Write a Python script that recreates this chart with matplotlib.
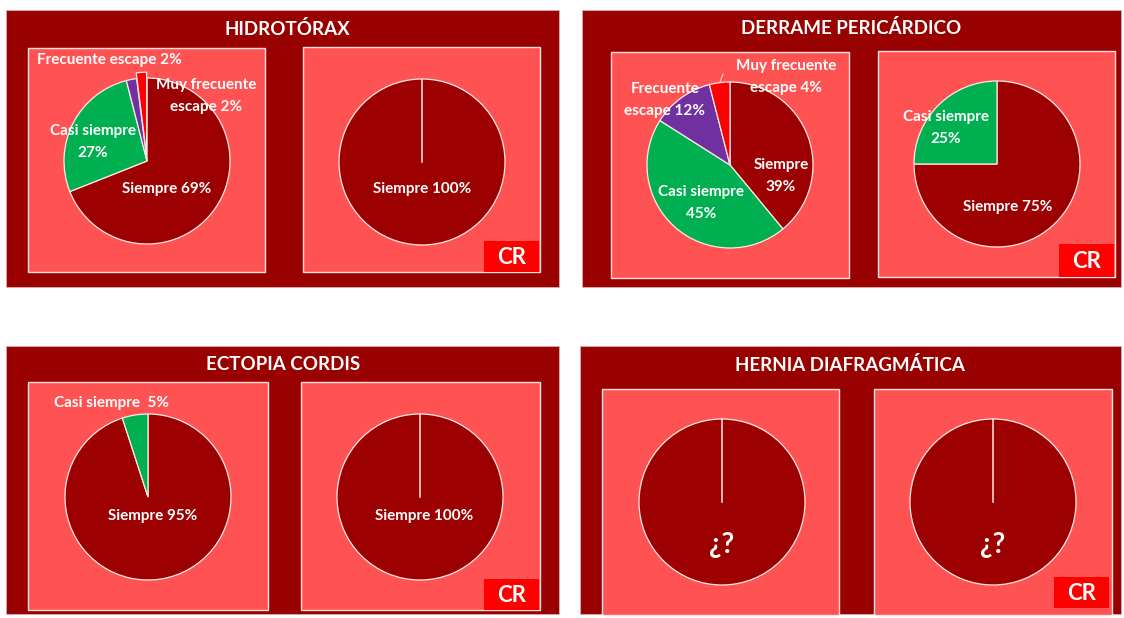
import matplotlib
matplotlib.use("Agg")
import matplotlib.pyplot as plt
from matplotlib.patches import Rectangle
import numpy as np

W, H, DPI = 1124, 618, 100

# ---- data -------------------------------------------------------------
colores = {"Siempre": "#9C0000", "Casi siempre": "#00B050",
           "Frecuente escape": "#7030A0", "Muy frecuente escape": "#FF0000"}

titulos = ["HIDROTÓRAX", "DERRAME PERICÁRDICO", "ECTOPIA CORDIS", "HERNIA DIAFRAGMÁTICA"]

hid_cat = ["Siempre", "Casi siempre", "Frecuente escape", "Muy frecuente escape"]
hid_val = [69, 27, 2, 2]
hid_cr_cat = ["Siempre"]
hid_cr_val = [100]

der_cat = ["Siempre", "Casi siempre", "Frecuente escape", "Muy frecuente escape"]
der_val = [39, 45, 12, 4]
der_cr_cat = ["Siempre", "Casi siempre"]
der_cr_val = [75, 25]

ect_cat = ["Siempre", "Casi siempre"]
ect_val = [95, 5]
ect_cr_cat = ["Siempre"]
ect_cr_val = [100]

her_cat = ["Siempre"]
her_val = [100]          # proporción desconocida
her_cr_cat = ["Siempre"]
her_cr_val = [100]

# ---- layout (pixels) --------------------------------------------------
paneles = [(6, 10, 553, 277), (582, 10, 539, 277),
           (6, 346, 553, 268), (580, 346, 541, 268)]
pos_titulos = [(287, 29), (851, 28), (283, 365), (850, 365)]
cajas = [(28, 48, 237, 224), (303, 47, 237, 225),
         (611, 52, 238, 226), (878, 51, 237, 226),
         (28, 382, 240, 228), (301, 382, 239, 228),
         (602, 389, 237, 226), (874, 389, 238, 226)]
cajas_cr = [(484, 241, 55, 31), (1059, 244, 55, 33),
            (484, 579, 55, 31), (1054, 577, 55, 31)]
centros = [(147, 161), (422, 162), (730, 165), (997, 164),
           (148, 497), (420, 497), (722, 502), (993, 502)]
R = 83

# pie definitions: categories, values, label templates, label positions, explode
tortas = [
    (hid_cat, hid_val,
     ["Siempre {}%", "Casi siempre\n{}%", "Frecuente escape {}%", "Muy frecuente\nescape {}%"],
     [(167, 189), (93, 142), (109, 60), (206, 96)], [0, 0, 0, 0.07]),
    (hid_cr_cat, hid_cr_val, ["Siempre {}%"], [(422, 189)], [0]),
    (der_cat, der_val,
     ["Siempre\n{}%", "Casi siempre\n{}%", "Frecuente\nescape {}%", "Muy frecuente\nescape {}%"],
     [(781, 176), (701, 203), (665, 100), (786, 77)], [0, 0, 0, 0]),
    (der_cr_cat, der_cr_val, ["Siempre {}%", "Casi siempre\n{}%"],
     [(1008, 207), (946, 128)], [0, 0]),
    (ect_cat, ect_val, ["Siempre {}%", "Casi siempre  {}%"],
     [(153, 516), (111, 403)], [0, 0]),
    (ect_cr_cat, ect_cr_val, ["Siempre {}%"], [(424, 516)], [0]),
    (her_cat, her_val, ["¿?"], [(722, 545)], [0]),
    (her_cr_cat, her_cr_val, ["¿?"], [(993, 545)], [0]),
]

FONT = ["Lato", "DejaVu Sans"]
plt.rcParams["font.family"] = FONT

fig = plt.figure(figsize=(W / DPI, H / DPI), dpi=DPI, facecolor="white")


def pixel_axes(zorder):
    ax = fig.add_axes([0, 0, 1, 1], zorder=zorder)
    ax.set_xlim(0, W)
    ax.set_ylim(H, 0)
    ax.axis("off")
    ax.patch.set_alpha(0)
    return ax


bg = pixel_axes(0)
for (x, y, w, h) in paneles:
    bg.add_patch(Rectangle((x, y), w, h, facecolor="#990000",
                           edgecolor="#D8B0B0", linewidth=0.6))
for (x, y, w, h) in cajas:
    bg.add_patch(Rectangle((x, y), w, h, facecolor="#FF5353",
                           edgecolor="#FFE0E0", linewidth=1.0))
for (x, y, w, h) in cajas_cr:
    bg.add_patch(Rectangle((x, y), w, h, facecolor="#FF0000", edgecolor="none"))

# pies
LIM = 1.25
for (cx, cy), (cats, vals, fmts, lpos, expl) in zip(centros, tortas):
    side = 2 * R * LIM
    ax = fig.add_axes([(cx - side / 2) / W, 1 - (cy + side / 2) / H, side / W, side / H],
                      zorder=1)
    ax.pie(vals, colors=[colores[c] for c in cats], startangle=90,
           counterclock=False, explode=expl, radius=1,
           wedgeprops=dict(edgecolor="#FFE8E8", linewidth=0.9))
    if len(vals) == 1:
        ang = np.deg2rad(90)
        ax.plot([0, np.cos(ang)], [0, np.sin(ang)], color="#FFE8E8", lw=1.1)
    ax.set_xlim(-LIM, LIM)
    ax.set_ylim(-LIM, LIM)
    ax.set_aspect("equal")
    ax.axis("off")

fg = pixel_axes(2)
for t, (x, y) in zip(titulos, pos_titulos):
    fg.text(x, y, t, color="white", fontsize=13.5, fontweight="bold",
            ha="center", va="center")
for (x, y, w, h) in cajas_cr:
    fg.text(x + w / 2, y + h / 2 + 1, "CR", color="white", fontsize=16,
            fontweight="bold", ha="center", va="center")

for (cats, vals, fmts, lpos, expl) in tortas:
    for fmt, v, (x, y) in zip(fmts, vals, lpos):
        txt = fmt.format(v)
        big = txt == "¿?"
        fg.text(x, y, txt, color="white", fontsize=20 if big else 11,
                fontweight="bold", ha="center", va="center",
                linespacing=1.65)

# leader line for the small red wedge of the pericardial pie
fg.plot([720, 723], [82, 74], color="#FFD0D0", lw=0.8)

fig.savefig("out.png", dpi=DPI, facecolor="white")
